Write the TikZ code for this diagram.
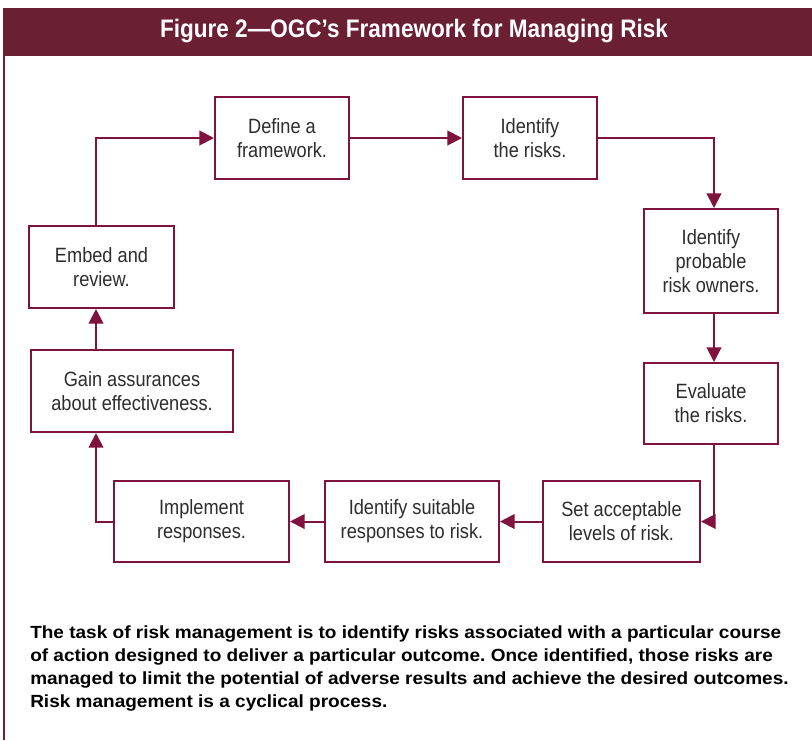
\documentclass[tikz,border=0pt]{standalone}
\usepackage{fontspec}
\setmainfont{Liberation Sans}[FakeStretch=0.88]
\newfontfamily\headfont{Liberation Sans}[FakeStretch=0.89]
\newfontfamily\notefont{Liberation Sans}[FakeStretch=1.08]
\usepackage{xcolor}
\usetikzlibrary{arrows.meta}
\definecolor{ogcmaroon}{RGB}{106,31,51}
\definecolor{ogcline}{RGB}{128,18,62}
\definecolor{ogctext}{RGB}{45,45,45}
\frenchspacing

\begin{document}
\begin{tikzpicture}[x=0.75pt, y=-0.75pt, font=\fontsize{15.5}{18}\selectfont,
    stage/.style={draw=ogcline, line width=1.5pt, fill=white, align=center, text=ogctext, inner sep=2pt},
    flow/.style={draw=ogcline, line width=1.5pt, -{Triangle[length=11pt,width=11pt]}}]
            \useasboundingbox (0,0) rectangle (812,740);
            % banner and left rule
            \fill[ogcmaroon] (3,8) rectangle (812,56);
            \node (title) at (414,31) {\headfont\fontsize{19}{21}\selectfont\color{white}\textbf{Figure 2—OGC’s Framework for Managing Risk}};
            \draw[ogcmaroon, line width=1.2pt] (4,56) -- (4,740);

            \coordinate (lx) at (96,0);
            \coordinate (rx) at (714,0);

            \node[stage, minimum width=100.5pt, minimum height=61.5pt] (define) at (282,138) {Define a\\framework.};
            \node[stage, minimum width=100.5pt, minimum height=61.5pt] (risks) at (530,138) {Identify\\the risks.};
            \node[stage, minimum width=100.5pt, minimum height=78pt] (owners) at (711,261) {Identify\\probable\\risk owners.};
            \node[stage, minimum width=100.5pt, minimum height=60.75pt] (evaluate) at (711,403.5) {Evaluate\\the risks.};
            \node[stage, minimum width=117.75pt, minimum height=60.75pt] (levels) at (621.5,521.5) {Set acceptable\\levels of risk.};
            \node[stage, minimum width=130.5pt, minimum height=60.75pt] (suitable) at (412,521.5) {Identify suitable\\responses to risk.};
            \node[stage, minimum width=131.25pt, minimum height=60.75pt] (implement) at (201.5,521.5) {Implement\\responses.};
            \node[stage, minimum width=151.5pt, minimum height=61.5pt] (gain) at (132,391) {Gain assurances\\about effectiveness.};
            \node[stage, minimum width=108.75pt, minimum height=61.5pt] (embed) at (101.5,267) {Embed and\\review.};

            \draw[flow] (embed.north -| lx) |- (define.west);
            \draw[flow] (define) -- (risks);
            \draw[flow] (risks.east) -| (owners.north -| rx);
            \draw[flow] (owners.south -| rx) -- (evaluate.north -| rx);
            \draw[flow] (evaluate.south -| rx) |- (levels.east);
            \draw[flow] (levels) -- (suitable);
            \draw[flow] (suitable) -- (implement);
            \draw[flow] (implement.west) -| (gain.south -| lx);
            \draw[flow] (gain.north -| lx) -- (embed.south -| lx);

            \node[anchor=north west, align=left, inner sep=0pt, font=\notefont\fontsize{13.2}{17.3}\selectfont\bfseries] (caption) at (30,625) {The task of risk management is to identify risks associated with a particular course\\of action designed to deliver a particular outcome. Once identified, those risks are\\managed to limit the potential of adverse results and achieve the desired outcomes.\\Risk management is a cyclical process.};
        \end{tikzpicture}
\end{document}
